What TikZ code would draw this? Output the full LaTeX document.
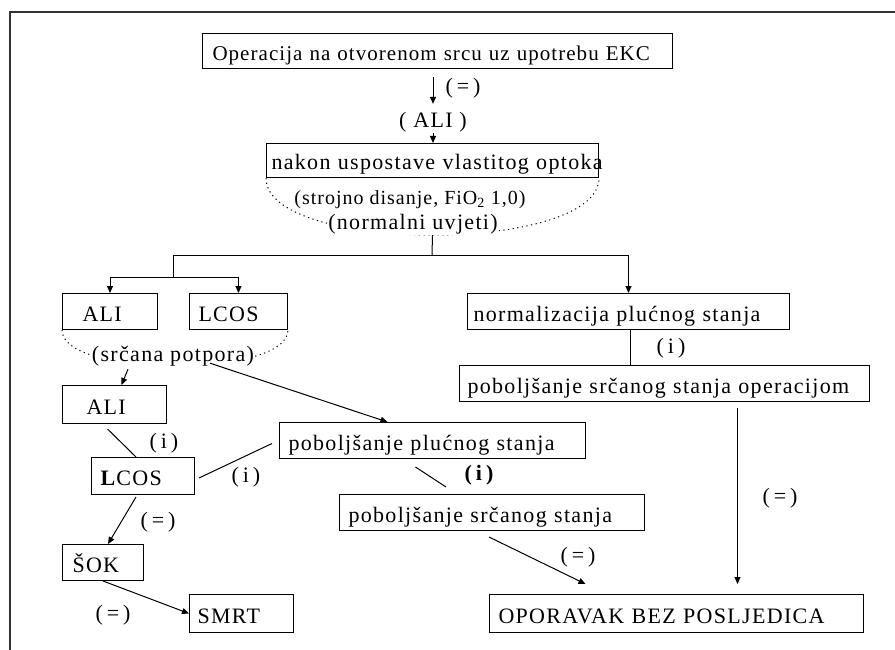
\documentclass[tikz,border=0pt]{standalone}
\usepackage{fontspec}
\setmainfont{Liberation Serif}
\newfontfamily\lsf[LetterSpace=6]{Liberation Serif}
\newfontfamily\tsf[LetterSpace=5]{Liberation Serif}
\newfontfamily\wsf[LetterSpace=18]{Liberation Serif}
\usetikzlibrary{arrows.meta,calc}
\begin{document}
\begin{tikzpicture}[x=1pt,y=-1pt,
  bx/.style n args={3}{draw, line width=1pt, anchor=north west, align=left,
     text width=#1, minimum height=#2, inner xsep=#3, inner ysep=0pt,
     text height=22pt, text depth=3pt, font=\fontsize{22}{25}\lsf},
  txt/.style={inner sep=1pt, font=\fontsize{22}{25}\lsf},
  wtxt/.style={inner sep=1pt, font=\fontsize{22}{25}\wsf},
  conn/.style={line width=1pt},
  arr/.style={line width=1pt, -{Triangle[length=7pt,width=6pt]}},
  dots/.style={line width=1pt, dash pattern=on 1.2pt off 3.5pt}]
\useasboundingbox (0,0) rectangle (895,650);
\draw[line width=2pt, black!80] (10,650) -- (10,12) -- (895,12);

% boxes
\node[bx={450pt}{35pt}{10pt}, font=\fontsize{21}{24}\tsf] (top) at (202,33) {\mbox{Operacija na otvorenom srcu uz upotrebu EKC}};
\node[bx={322pt}{34pt}{5pt}] (nakon) at (266,143) {\mbox{nakon uspostave vlastitog optoka}};
\node[bx={55pt}{36pt}{20pt}] (ali1) at (62,293) {\mbox{ALI}};
\node[bx={80pt}{36pt}{9pt}] (lcos1) at (189,293) {\mbox{LCOS}};
\node[bx={56pt}{38pt}{24pt}] (ali2) at (62,385) {\mbox{ALI}};
\node[bx={85pt}{37pt}{9pt}] (lcos2) at (91,457) {\mbox{\textbf{L}COS}};
\node[bx={61pt}{36pt}{10pt}] (sok) at (62,544) {\mbox{ŠOK}};
\node[bx={88pt}{38pt}{8pt}] (smrt) at (189,594) {\mbox{SMRT}};
\node[bx={288pt}{36pt}{9pt}] (plucno) at (279,422) {\mbox{poboljšanje plućnog stanja}};
\node[bx={287pt}{36pt}{9pt}] (srcano) at (339,494) {\mbox{poboljšanje srčanog stanja}};
\node[bx={310pt}{36pt}{6pt}] (normal) at (467,293) {\mbox{normalizacija plućnog stanja}};
\node[bx={394pt}{36pt}{8pt}] (operac) at (459,365) {\mbox{poboljšanje srčanog stanja operacijom}};
\node[bx={356pt}{38pt}{9pt}] (oporavak) at (489,594) {\mbox{OPORAVAK BEZ POSLJEDICA}};

% dotted arcs
\draw[dots] (nakon.south west) .. controls +(0,76) and +(0,76) .. (nakon.south east);
\draw[dots] (ali1.south west) .. controls +(0,48) and +(0,48) .. (lcos1.south east);

% free texts
\node[txt] (ali0) at (433,122) {( ALI )};
\node[txt, font=\fontsize{20}{23}\tsf] (strojno) at (410,200) {(strojno disanje, FiO\textsubscript{2} 1,0)};
\node[txt, fill=white] (normalni) at (413,224) {(normalni uvjeti)};
\node[txt, fill=white, inner xsep=0pt] (srcana) at (173,356) {(srčana potpora)};

% connectors
\draw[arr] ([yshift=-8pt]top.south -| ali0.north) -- ([yshift=7pt]ali0.north);
\node[wtxt] (l1) at (463,88) {(=)};
\draw[arr] (ali0.south) -- (nakon.north -| ali0.south);

\coordinate (hub) at (432,255);
\coordinate (hubL) at (173,277);
\draw[conn] (nakon.south |- normalni.south) -- (hub);
\draw[arr] (hub) -| (normal.north);
\draw[conn] (hub) -| (hubL);
\draw[arr] (hubL) -| (ali1.north);
\draw[arr] (hubL) -| (lcos1.north);

\draw[arr] ([xshift=-45pt,yshift=-2pt]srcana.south) -- ([xshift=7pt]ali2.north);
\draw[arr] ([xshift=37pt,yshift=4pt]srcana.south) -- ([xshift=-45pt]plucno.north);

\draw[conn] ([xshift=-7pt,yshift=-5pt]ali2.south) -- ([xshift=-7pt]lcos2.north);
\node[wtxt] (l2) at (164,443) {(i)};

\draw[conn] ([xshift=4pt,yshift=-2pt]lcos2.east) -- ([xshift=-7pt,yshift=-3pt]plucno.west);
\node[wtxt] (l3) at (246,477) {(i)};

\draw[conn] ([xshift=-17pt,yshift=-8pt]plucno.south) -- ([xshift=-46pt,yshift=7pt]srcano.north);
\node[wtxt] (l4) at (481,475) {\textbf{(i)}};

\draw[arr] ([xshift=-3pt,yshift=-6pt]srcano.south) -- ([xshift=-91pt,yshift=10pt]oporavak.north);
\node[wtxt] (l5) at (578,557) {(=)};

\draw[arr] ([xshift=-7pt,yshift=-2pt]lcos2.south) -- ([xshift=5pt]sok.north);
\node[wtxt] (l6) at (158,522) {(=)};

\draw[arr] (sok.south) -- (smrt.west);
\node[wtxt] (l7) at (113,615) {(=)};

\draw[conn] ([xshift=2pt]normal.south) -- ([xshift=2pt]operac.north -| normal.south);
\node[wtxt] (l8) at (671,348) {(i)};

\draw[arr] ([xshift=73pt,yshift=-6pt]operac.south) -- ([xshift=61pt,yshift=10pt]oporavak.north);
\node[wtxt] (l9) at (780,498) {(=)};
\end{tikzpicture}
\end{document}
